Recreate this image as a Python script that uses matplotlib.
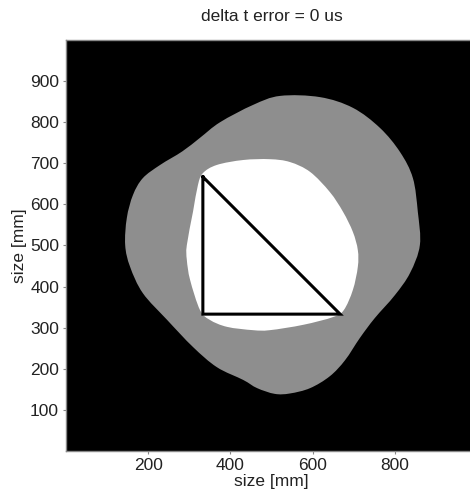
import matplotlib
matplotlib.use("Agg")
import matplotlib.pyplot as plt
from matplotlib.path import Path
from matplotlib.patches import PathPatch

# Outer (gray) region boundary, in mm
gray_x = [144, 148, 163, 187, 229, 283, 326, 375, 455, 521, 618, 698, 764, 813,
          844, 856, 861, 837, 800, 751, 715, 679, 642, 594, 545, 508, 465, 431,
          367, 309, 246, 187, 156]
gray_y = [501, 567, 623, 664, 696, 729, 762, 800, 842, 864, 861, 835, 786, 727,
          664, 582, 501, 433, 379, 323, 275, 221, 182, 153, 140, 139, 153, 173,
          204, 253, 319, 384, 448]

# Inner (white) region boundary, in mm
white_x = [294, 309, 321, 333, 367, 431, 496, 545, 594, 642, 674, 698, 710, 710,
           698, 676, 650, 577, 496, 455, 392, 350, 326, 302, 294]
white_y = [501, 582, 647, 676, 696, 708, 710, 703, 679, 630, 582, 533, 489, 448,
           392, 343, 326, 307, 294, 294, 302, 319, 343, 416, 465]

# Triangle vertices, in mm
tri_x = [333, 333, 667, 333]
tri_y = [667, 333, 333, 667]

x_ticks = [200, 400, 600, 800]
y_ticks = [100, 200, 300, 400, 500, 600, 700, 800, 900]


def smooth_closed_path(xs, ys):
    """Closed Catmull-Rom curve through the given points, as cubic Beziers."""
    pts = list(zip(xs, ys))
    n = len(pts)
    verts = [pts[0]]
    codes = [Path.MOVETO]
    for i in range(n):
        p0 = pts[(i - 1) % n]
        p1 = pts[i]
        p2 = pts[(i + 1) % n]
        p3 = pts[(i + 2) % n]
        c1 = (p1[0] + (p2[0] - p0[0]) / 6, p1[1] + (p2[1] - p0[1]) / 6)
        c2 = (p2[0] - (p3[0] - p1[0]) / 6, p2[1] - (p3[1] - p1[1]) / 6)
        verts += [c1, c2, p2]
        codes += [Path.CURVE4] * 3
    verts.append(pts[0])
    codes.append(Path.CLOSEPOLY)
    return Path(verts, codes)


plt.rcParams['font.family'] = ['Liberation Sans', 'DejaVu Sans']

W, H = 470, 493
fig = plt.figure(figsize=(W / 100, H / 100), dpi=100)
ax = fig.add_axes([66 / W, (H - 451) / H, 411 / W, 411 / H])
ax.set_facecolor('black')

ax.add_patch(PathPatch(smooth_closed_path(gray_x, gray_y),
                       facecolor='#8e8e8e', edgecolor='none'))
ax.add_patch(PathPatch(smooth_closed_path(white_x, white_y),
                       facecolor='white', edgecolor='none'))
ax.plot(tri_x, tri_y, color='black', lw=2.2, solid_joinstyle='miter')

ax.set_xlim(0, 1000)
ax.set_ylim(0, 1000)
ax.set_xticks(x_ticks)
ax.set_yticks(y_ticks)
ax.tick_params(direction='out', length=2, width=0.8, color='#888888',
               labelsize=12.5, labelcolor='#222222', pad=3)
for s in ax.spines.values():
    s.set_color('#888888')
    s.set_linewidth(1)

ax.set_title('delta t error = 0 us', fontsize=12.5, pad=14, color='#222222')
ax.set_xlabel('size [mm]', fontsize=12.5, labelpad=1, color='#222222')
ax.set_ylabel('size [mm]', fontsize=12.5, labelpad=2, color='#222222')

fig.savefig('out.png', dpi=100)
